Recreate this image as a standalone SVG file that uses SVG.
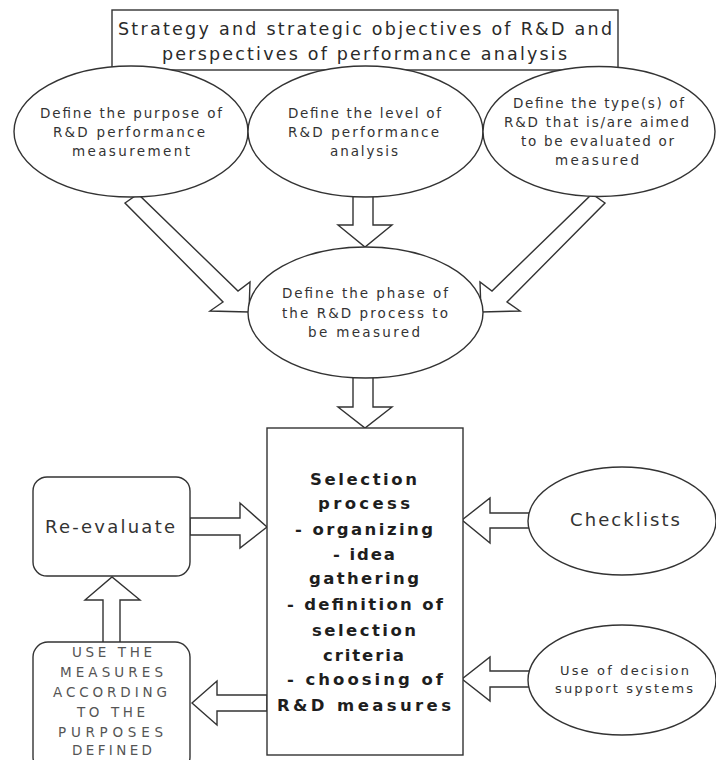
<svg xmlns="http://www.w3.org/2000/svg" width="716" height="760" viewBox="0 0 716 760">
<style>
.shape{fill:#fff;stroke:#333;stroke-width:1.4}
.arrow{fill:#fff;stroke:#333;stroke-width:1.4;stroke-linejoin:miter}
text{font-family:"DejaVu Sans","Liberation Sans",Arial,sans-serif;text-anchor:middle;fill:#2a2a2a}
.t-title{font-size:17.5px}
.t-ell{font-size:13.5px;fill:#333}
.t-main{font-size:16.5px;font-weight:bold;fill:#1e1e1e}
.t-big{font-size:18px;fill:#333}
.t-small{font-size:13px;fill:#333}
.t-use{font-size:13.5px;fill:#555}
</style>
<rect width="716" height="760" fill="#fff"/>
<g id="connectors">
<polygon class="arrow" points="353,190 373,190 373,225 392,225 365,247 338,225 353,225"/>
<polygon class="arrow" points="353,372 373,372 373,407 392,407 365,428 338,407 353,407"/>
<polygon class="arrow" points="125,203 138,194 238,291 250,282 249,312 210,311 223,302"/>
<polygon class="arrow" points="605,203 592,194 492,291 480,282 481,312 520,311 507,302"/>
<polygon class="arrow" points="190,518 240,518 240,503 267,527 240,548 240,535 190,535"/>
<polygon class="arrow" points="534,513 490,513 490,498 462,520 490,543 490,528 534,528"/>
<polygon class="arrow" points="534,671 490,671 490,657 462,679 490,701 490,687 534,687"/>
<polygon class="arrow" points="267,695 217,695 217,681 192,703 217,725 217,711 267,711"/>
<polygon class="arrow" points="103,645 103,600 85,600 112,577 140,600 120,600 120,645"/>
</g>
<g id="strategy">
<rect class="shape" x="112" y="10" width="506" height="60"/>
<text class="t-title" x="365" y="35" textLength="494" lengthAdjust="spacing">Strategy and strategic objectives of R&amp;D and</text>
<text class="t-title" x="364.5" y="60" textLength="405" lengthAdjust="spacing">perspectives of performance analysis</text>
</g>
<g id="purpose">
<ellipse class="shape" cx="131" cy="131.5" rx="117" ry="65.5"/>
<text class="t-ell" x="131" y="118" textLength="182" lengthAdjust="spacing">Define the purpose of</text>
<text class="t-ell" x="129" y="137" textLength="152" lengthAdjust="spacing">R&amp;D performance</text>
<text class="t-ell" x="131" y="156" textLength="118" lengthAdjust="spacing">measurement</text>
</g>
<g id="level">
<ellipse class="shape" cx="365.5" cy="131.5" rx="117.5" ry="65.5"/>
<text class="t-ell" x="364.5" y="118" textLength="153" lengthAdjust="spacing">Define the level of</text>
<text class="t-ell" x="363.5" y="137" textLength="151" lengthAdjust="spacing">R&amp;D performance</text>
<text class="t-ell" x="364" y="156" textLength="68" lengthAdjust="spacing">analysis</text>
</g>
<g id="type">
<ellipse class="shape" cx="599" cy="131.5" rx="116" ry="65"/>
<text class="t-ell" x="598.5" y="108" textLength="171" lengthAdjust="spacing">Define the type(s) of</text>
<text class="t-ell" x="596.5" y="127" textLength="185" lengthAdjust="spacing">R&amp;D that is/are aimed</text>
<text class="t-ell" x="597.5" y="146" textLength="153" lengthAdjust="spacing">to be evaluated or</text>
<text class="t-ell" x="597" y="165" textLength="84" lengthAdjust="spacing">measured</text>
</g>
<g id="phase">
<ellipse class="shape" cx="365.5" cy="312.5" rx="117.5" ry="65.5"/>
<text class="t-ell" x="365" y="298" textLength="166" lengthAdjust="spacing">Define the phase of</text>
<text class="t-ell" x="365" y="318" textLength="166" lengthAdjust="spacing">the R&amp;D process to</text>
<text class="t-ell" x="364" y="337" textLength="112" lengthAdjust="spacing">be measured</text>
</g>
<g id="selection">
<rect class="shape" x="267" y="428" width="196" height="327"/>
<text class="t-main" x="363.5" y="485" textLength="107" lengthAdjust="spacing">Selection</text>
<text class="t-main" x="364" y="509" textLength="92" lengthAdjust="spacing">process</text>
<text class="t-main" x="364" y="535" textLength="138" lengthAdjust="spacing">- organizing</text>
<text class="t-main" x="364" y="560" textLength="62" lengthAdjust="spacing">- idea</text>
<text class="t-main" x="364" y="584" textLength="110" lengthAdjust="spacing">gathering</text>
<text class="t-main" x="365" y="610" textLength="156" lengthAdjust="spacing">- definition of</text>
<text class="t-main" x="364" y="636" textLength="104" lengthAdjust="spacing">selection</text>
<text class="t-main" x="363.5" y="661" textLength="81" lengthAdjust="spacing">criteria</text>
<text class="t-main" x="365" y="685" textLength="156" lengthAdjust="spacing">- choosing of</text>
<text class="t-main" x="364" y="711" textLength="174" lengthAdjust="spacing">R&amp;D measures</text>
</g>
<g id="checklists">
<ellipse class="shape" cx="622" cy="521" rx="94" ry="54"/>
<text class="t-big" x="625" y="526" textLength="110" lengthAdjust="spacing">Checklists</text>
</g>
<g id="decision">
<ellipse class="shape" cx="622" cy="680" rx="94" ry="55"/>
<text class="t-small" x="624.5" y="675" textLength="129" lengthAdjust="spacing">Use of decision</text>
<text class="t-small" x="624" y="693" textLength="138" lengthAdjust="spacing">support systems</text>
</g>
<g id="reevaluate">
<rect class="shape" x="33" y="477" width="157" height="99" rx="14"/>
<text class="t-big" x="110" y="533" textLength="130" lengthAdjust="spacing">Re-evaluate</text>
</g>
<g id="use">
<rect class="shape" x="33" y="642" width="157" height="130" rx="15"/>
<text class="t-use" x="112" y="657" textLength="80" lengthAdjust="spacing">USE THE</text>
<text class="t-use" x="111.5" y="677" textLength="103" lengthAdjust="spacing">MEASURES</text>
<text class="t-use" x="110" y="697" textLength="114" lengthAdjust="spacing">ACCORDING</text>
<text class="t-use" x="111" y="717" textLength="68" lengthAdjust="spacing">TO THE</text>
<text class="t-use" x="110.5" y="737" textLength="105" lengthAdjust="spacing">PURPOSES</text>
<text class="t-use" x="112" y="755" textLength="80" lengthAdjust="spacing">DEFINED</text>
</g>
</svg>
